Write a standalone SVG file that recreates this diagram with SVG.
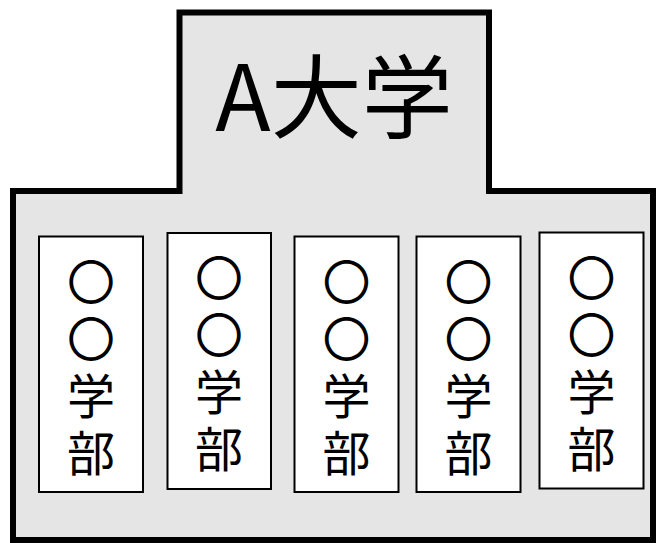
<svg xmlns="http://www.w3.org/2000/svg" width="658" height="543" viewBox="0 0 658 543">
<style>
.bld{fill:#e5e5e5;stroke:#000;stroke-width:6;stroke-linejoin:miter}
.box{fill:#fff;stroke:#000;stroke-width:2}
.t{font-family:"Noto Sans CJK JP","Noto Sans",sans-serif;fill:#000;text-anchor:middle}
.lbl{font-size:48px}
.ttl{font-size:91px}
</style>
<g id="building">
<path class="bld" d="M13,191 H179.5 V12.5 H489 V191 H653 V540 H13 Z"/>
<text class="t ttl" x="334" y="131">A大学</text>
</g>
<g id="faculty1">
<rect class="box" x="39" y="236.5" width="104" height="255.5"/>
<text class="t lbl" x="91"><tspan x="91" y="300">〇</tspan><tspan x="91" y="357">〇</tspan><tspan x="91" y="414">学</tspan><tspan x="91" y="471">部</tspan></text>
</g>
<g id="faculty2">
<rect class="box" x="167.5" y="233" width="103.5" height="256"/>
<text class="t lbl" x="219"><tspan x="219" y="296">〇</tspan><tspan x="219" y="353">〇</tspan><tspan x="219" y="410">学</tspan><tspan x="219" y="467">部</tspan></text>
</g>
<g id="faculty3">
<rect class="box" x="294.5" y="236.5" width="104" height="255.5"/>
<text class="t lbl" x="346.5"><tspan x="346.5" y="300">〇</tspan><tspan x="346.5" y="357">〇</tspan><tspan x="346.5" y="414">学</tspan><tspan x="346.5" y="471">部</tspan></text>
</g>
<g id="faculty4">
<rect class="box" x="416.5" y="236.5" width="104" height="255.5"/>
<text class="t lbl" x="468.5"><tspan x="468.5" y="300">〇</tspan><tspan x="468.5" y="357">〇</tspan><tspan x="468.5" y="414">学</tspan><tspan x="468.5" y="471">部</tspan></text>
</g>
<g id="faculty5">
<rect class="box" x="539.5" y="232.5" width="104" height="256"/>
<text class="t lbl" x="591.5"><tspan x="591.5" y="296">〇</tspan><tspan x="591.5" y="353">〇</tspan><tspan x="591.5" y="410">学</tspan><tspan x="591.5" y="467">部</tspan></text>
</g>
<g id="connectors"></g>
</svg>
